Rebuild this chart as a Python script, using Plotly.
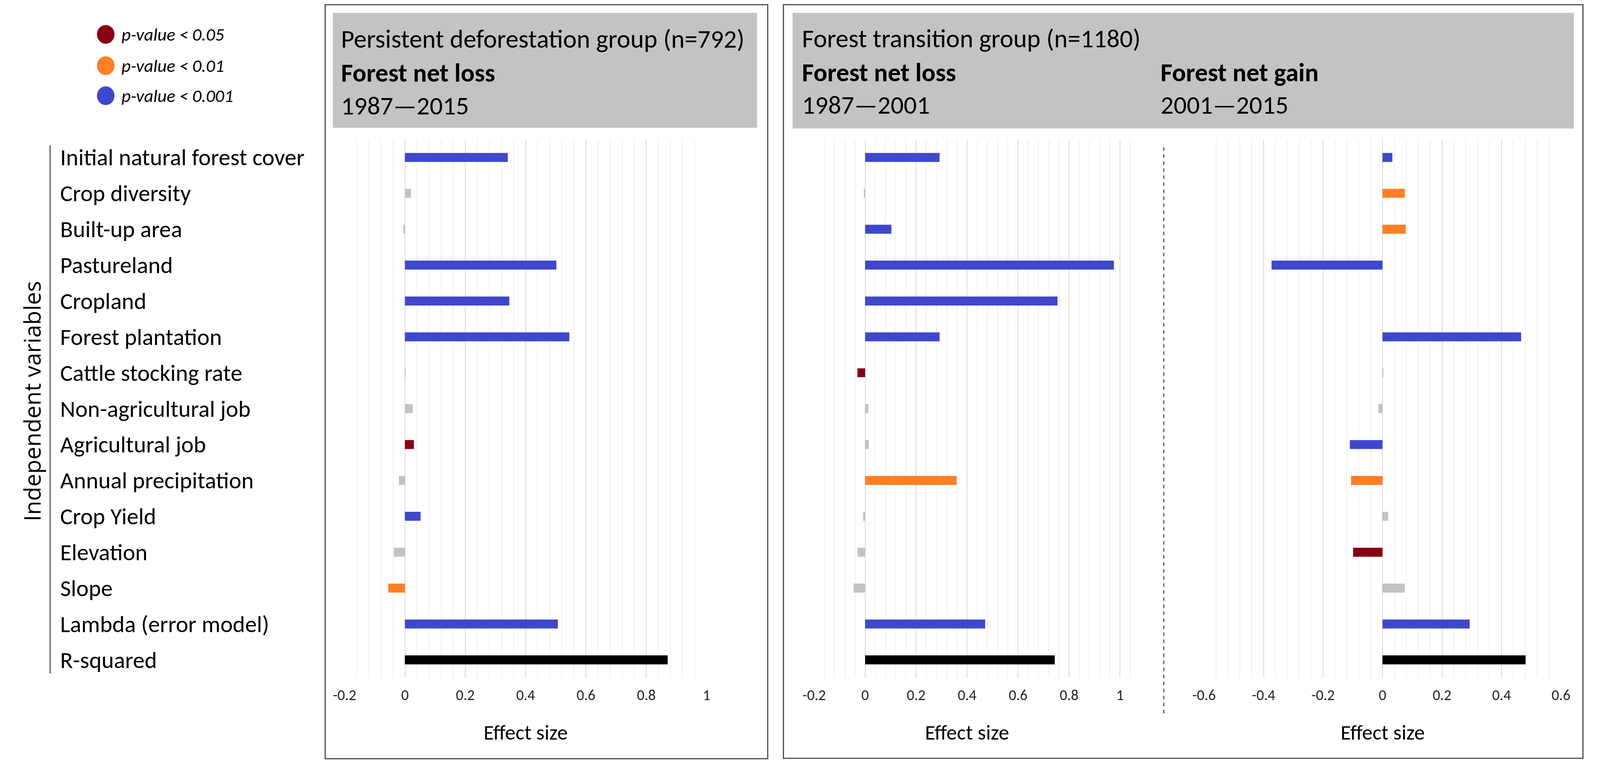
import plotly.graph_objects as go

# reference picture size; all positions below are given in its pixels and
# converted to paper fractions, so the figure can fill whatever window it gets
W, H = 4317, 1953

variables = [
    "Initial natural forest cover", "Crop diversity", "Built-up area",
    "Pastureland", "Cropland", "Forest plantation", "Cattle stocking rate",
    "Non-agricultural job", "Agricultural job", "Annual precipitation",
    "Crop Yield", "Elevation", "Slope", "Lambda (error model)", "R-squared",
]

# persistent deforestation group, 1987-2015
pd_loss = [0.341, 0.02, -0.005, 0.502, 0.346, 0.545, 0.003, 0.026, 0.03,
           -0.02, 0.052, -0.037, -0.055, 0.507, 0.871]
pd_loss_sig = ["p001", "ns", "ns", "p001", "p001", "p001", "ns", "ns", "p05",
               "ns", "p001", "ns", "p01", "p001", "r2"]

# forest transition group, 1987-2001
ft_loss = [0.292, -0.005, 0.103, 0.976, 0.755, 0.292, -0.03, 0.012, 0.014,
           0.359, -0.008, -0.03, -0.045, 0.471, 0.744]
ft_loss_sig = ["p001", "ns", "p001", "p001", "p001", "p001", "p05", "ns", "ns",
               "p01", "ns", "ns", "ns", "p001", "r2"]

# forest transition group, 2001-2015
ft_gain = [0.033, 0.075, 0.078, -0.373, 0.0, 0.466, 0.003, -0.014, -0.11,
           -0.106, 0.019, -0.099, 0.075, 0.293, 0.481]
ft_gain_sig = ["p001", "p01", "p01", "p001", "ns", "p001", "ns", "ns", "p001",
               "p01", "ns", "p05", "ns", "p001", "r2"]

loss_ticks = [-0.2, 0, 0.2, 0.4, 0.6, 0.8, 1]
gain_ticks = [-0.6, -0.4, -0.2, 0, 0.2, 0.4, 0.6]

sig_colors = {"p05": "#880015", "p01": "#FF7F27", "p001": "#3F48CC",
              "ns": "#C3C3C3", "r2": "#000000"}
legend_labels = ["p-value < 0.05", "p-value < 0.01", "p-value < 0.001"]
legend_keys = ["p05", "p01", "p001"]

FONT = "Calibri, Carlito, Lato, sans-serif"


def fx(p):
    return p / W


def fy(p):
    return 1 - p / H


fig = go.Figure()
for i, (vals, sig) in enumerate([(pd_loss, pd_loss_sig), (ft_loss, ft_loss_sig),
                                 (ft_gain, ft_gain_sig)]):
    suffix = "" if i == 0 else str(i + 1)
    fig.add_trace(go.Bar(
        x=vals, y=variables, orientation="h", width=0.25,
        marker=dict(color=[sig_colors[s] for s in sig], line=dict(width=0)),
        xaxis="x" + suffix, yaxis="y" + suffix, showlegend=False,
    ))


def xaxis_style(ticks):
    # excel-like labels: plain hyphen, no trailing zeros
    return dict(
        tickmode="array", tickvals=ticks, ticktext=[f"{t:g}" for t in ticks],
        showgrid=True, gridcolor="#D9D9D9", gridwidth=2,
        minor=dict(tickmode="linear", dtick=0.04, tick0=0, showgrid=True,
                   gridcolor="#EFEFEF", gridwidth=2),
        zeroline=False, showline=False, ticks="", ticklabelstandoff=18,
        tickfont=dict(family=FONT, size=38, color="#262626"),
    )


ydom = [fy(1735), fy(357)]
yaxis_common = dict(
    range=[len(variables) - 0.5, -0.5], showgrid=False, zeroline=False,
    showticklabels=False, showline=False, ticks="", domain=ydom,
)

fig.update_layout(
    autosize=True,
    margin=dict(l=0, r=0, t=0, b=0),
    paper_bgcolor="white", plot_bgcolor="white",
    bargap=0.75,
    xaxis=dict(domain=[fx(910), fx(1900)], range=[-0.2, 1.0], anchor="y", **xaxis_style(loss_ticks)),
    xaxis2=dict(domain=[fx(2194), fx(3086)], range=[-0.2, 1.08], anchor="y2", **xaxis_style(loss_ticks)),
    xaxis3=dict(domain=[fx(3260), fx(4236)], range=[-0.6, 0.6], anchor="y3", **xaxis_style(gain_ticks)),
    yaxis=dict(anchor="x", **yaxis_common),
    yaxis2=dict(anchor="x2", **yaxis_common),
    yaxis3=dict(anchor="x3", **yaxis_common),
)

shapes = [
    # panel frames
    dict(type="rect", xref="paper", yref="paper", x0=fx(857), x1=fx(2067),
         y0=fy(1942), y1=fy(12), line=dict(color="#4D4D4D", width=3), layer="below"),
    dict(type="rect", xref="paper", yref="paper", x0=fx(2110), x1=fx(4296),
         y0=fy(1941), y1=fy(12), line=dict(color="#4D4D4D", width=3), layer="below"),
    # grey headers
    dict(type="rect", xref="paper", yref="paper", x0=fx(878), x1=fx(2038),
         y0=fy(327), y1=fy(33), fillcolor="#C3C3C3", line=dict(width=0), layer="below"),
    dict(type="rect", xref="paper", yref="paper", x0=fx(2135), x1=fx(4271),
         y0=fy(329), y1=fy(33), fillcolor="#C3C3C3", line=dict(width=0), layer="below"),
    # divider between the two periods
    dict(type="line", xref="paper", yref="paper", x0=fx(3150), x1=fx(3150),
         y0=fy(1826), y1=fy(369), line=dict(color="#404040", width=2.5, dash="dash")),
    # category axis line
    dict(type="line", xref="paper", yref="paper", x0=fx(105), x1=fx(105),
         y0=fy(1724), y1=fy(372), line=dict(color="#404040", width=2.5)),
]

# legend circles
r = 24
for k, cy in zip(legend_keys, [88, 168, 245]):
    shapes.append(dict(type="circle", xref="paper", yref="paper",
                       x0=fx(257 - r), x1=fx(257 + r), y0=fy(cy + r), y1=fy(cy - r),
                       fillcolor=sig_colors[k], line=dict(width=0)))

annotations = []
for lab, cy in zip(legend_labels, [88, 168, 245]):
    annotations.append(dict(text="<i>" + lab + "</i>", xref="paper", yref="paper",
                            x=fx(298), y=fy(cy), xanchor="left", yanchor="middle",
                            showarrow=False, font=dict(family=FONT, size=46, color="black")))

for v in variables:
    annotations.append(dict(text=v, xref="paper", yref="y", x=fx(130), y=v,
                            xanchor="left", yanchor="middle", showarrow=False,
                            font=dict(family=FONT, size=60, color="black")))

annotations.append(dict(text="Independent variables", xref="paper", yref="paper",
                        x=fx(54), y=fy(1027), textangle=-90, showarrow=False,
                        xanchor="center", yanchor="middle",
                        font=dict(family="Open Sans, sans-serif", size=59, color="black")))

headers = [
    ("Persistent deforestation group (n=792)", 898, 100),
    ("<b>Forest net loss</b>", 898, 187),
    ("1987\u20142015", 898, 270),
    ("Forest transition group (n=1180)", 2159, 98),
    ("<b>Forest net loss</b>", 2159, 185),
    ("1987\u20142001", 2159, 269),
    ("<b>Forest net gain</b>", 3139, 185),
    ("2001\u20142015", 3139, 269),
]
for txt, x, y in headers:
    annotations.append(dict(text=txt, xref="paper", yref="paper", x=fx(x), y=fy(y),
                            xanchor="left", yanchor="middle", showarrow=False,
                            font=dict(family=FONT, size=66, color="black")))

for xr, xv in [("x", 0.4), ("x2", 0.4), ("x3", 0.0)]:
    annotations.append(dict(text="Effect size", xref=xr, yref="paper", x=xv, y=fy(1875),
                            xanchor="center", yanchor="middle", showarrow=False,
                            font=dict(family=FONT, size=54, color="black")))

fig.update_layout(shapes=shapes, annotations=annotations)

# let the plot fill the whole window without the default body margin
fill_window = """
document.documentElement.style.margin = '0';
document.body.style.margin = '0';
document.body.style.overflow = 'hidden';
var gd = document.getElementById('{plot_id}');
gd.style.width = '100vw';
gd.style.height = '100vh';
Plotly.Plots.resize(gd);
"""
fig.write_html("out.html", config={"responsive": True, "displayModeBar": False},
               post_script=fill_window)
